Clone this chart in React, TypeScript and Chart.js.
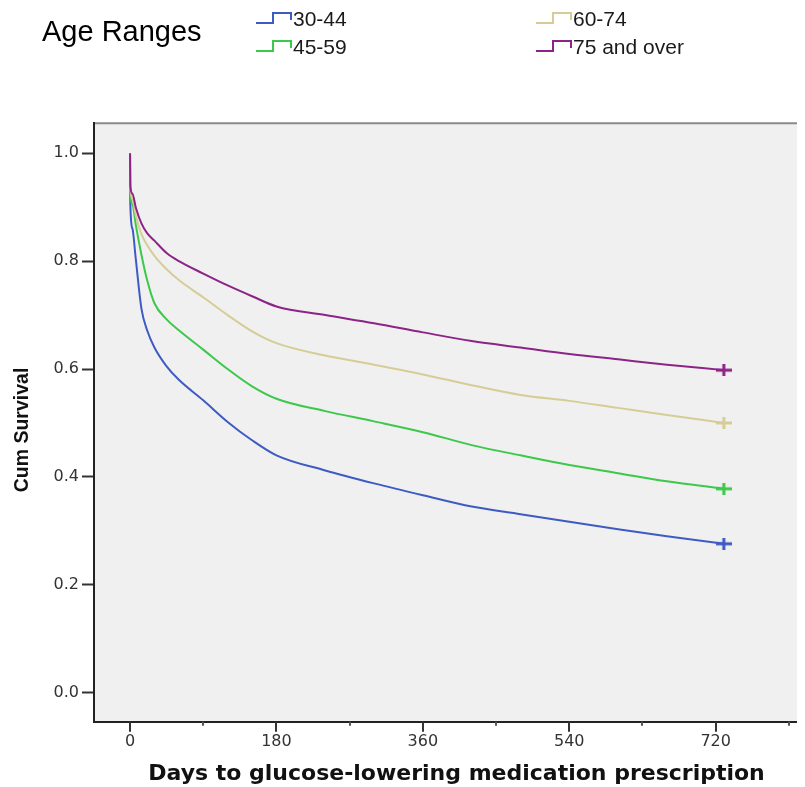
import { useEffect, useRef } from 'react';
import { Chart, registerables } from 'chart.js';

Chart.register(...registerables);

// Kaplan-Meier estimates by age group, read at selected follow-up days
const groupLabels = ['30-44', '45-59', '60-74', '75 and over'];
const groupColors = ['#3e5bc4', '#3cc84a', '#d6cd96', '#8c2488'];

const days = [0, 0.3, 3, 7, 14, 21, 30, 45, 60, 90, 120, 150, 180, 240, 300, 360, 420, 480, 540, 600, 660, 730];
const surv3044 = [1, 0.908, 0.86, 0.805, 0.712, 0.672, 0.64, 0.605, 0.58, 0.542, 0.502, 0.468, 0.44, 0.412, 0.388, 0.366, 0.345, 0.331, 0.317, 0.303, 0.29, 0.276];
const surv4559 = [1, 0.926, 0.905, 0.868, 0.812, 0.765, 0.722, 0.692, 0.672, 0.636, 0.6, 0.568, 0.545, 0.522, 0.503, 0.483, 0.459, 0.44, 0.422, 0.407, 0.392, 0.378];
const surv6074 = [1, 0.94, 0.915, 0.885, 0.85, 0.83, 0.81, 0.785, 0.765, 0.733, 0.7, 0.67, 0.648, 0.625, 0.608, 0.59, 0.57, 0.552, 0.541, 0.528, 0.515, 0.5];
const surv75plus = [1, 0.94, 0.925, 0.9, 0.87, 0.852, 0.838, 0.815, 0.8, 0.777, 0.755, 0.735, 0.716, 0.7, 0.685, 0.668, 0.652, 0.64, 0.628, 0.618, 0.608, 0.598];

const xTickValues = [0, 90, 180, 270, 360, 450, 540, 630, 720, 810];
const xLabelStep = 180;
const yTickValues = [0, 0.2, 0.4, 0.6, 0.8, 1.0];

const legendTitle = 'Age Ranges';
const xTitle = 'Days to glucose-lowering medication prescription';
const yTitle = 'Cum Survival';

const TICK_FONT = "'DejaVu Sans', sans-serif";
const ARIAL = "'Liberation Sans', Arial, sans-serif";

// "+" censor mark drawn as a small bitmap
function makeCross(color: string): HTMLCanvasElement {
  const c = document.createElement('canvas');
  c.width = 16;
  c.height = 12;
  const g = c.getContext('2d')!;
  g.fillStyle = color;
  g.fillRect(0, 4.5, 16, 3);
  g.fillRect(6.5, 0, 3, 12);
  return c;
}

const plotFrame = {
  id: 'plotFrame',
  beforeDraw(chart: any) {
    const { ctx, chartArea: a } = chart;
    ctx.save();
    ctx.fillStyle = '#f0f0f0';
    ctx.fillRect(a.left, a.top, a.right - a.left, a.bottom - a.top);
    ctx.strokeStyle = '#8a8a8a';
    ctx.lineWidth = 2;
    ctx.beginPath();
    ctx.moveTo(a.left, a.top);
    ctx.lineTo(a.right, a.top);
    ctx.stroke();
    ctx.restore();
  },
  afterDraw(chart: any) {
    const { ctx, chartArea: a } = chart;
    const xs = chart.scales.x;
    ctx.save();
    // x-axis tick marks: long at labelled days, short in between
    xs.ticks.forEach((t: any) => {
      const px = Math.round(xs.getPixelForValue(t.value));
      const major = t.value % xLabelStep === 0;
      ctx.strokeStyle = major ? '#333' : '#555';
      ctx.lineWidth = 2;
      ctx.beginPath();
      ctx.moveTo(px, a.bottom);
      ctx.lineTo(px, a.bottom + (major ? 10 : 4));
      ctx.stroke();
    });

    // y-axis title
    ctx.save();
    ctx.translate(15, 422);
    ctx.rotate(-Math.PI / 2);
    ctx.fillStyle = '#111';
    ctx.font = `bold 19.5px ${ARIAL}`;
    ctx.textAlign = 'center';
    ctx.textBaseline = 'middle';
    ctx.fillText(yTitle, 0, 0);
    ctx.restore();

    // legend
    ctx.fillStyle = '#000';
    ctx.font = `29px ${ARIAL}`;
    ctx.textBaseline = 'middle';
    ctx.textAlign = 'left';
    ctx.fillText(legendTitle, 34, 25);

    const cols = [248, 528];
    const rows = [15, 43];
    chart.data.datasets.forEach((ds: any, i: number) => {
      const col = cols[Math.floor(i / 2)];
      const low = rows[i % 2];
      const high = low - 10;
      ctx.strokeStyle = ds.borderColor;
      ctx.lineWidth = 2;
      ctx.beginPath();
      ctx.moveTo(col, low);
      ctx.lineTo(col + 17, low);
      ctx.lineTo(col + 17, high);
      ctx.lineTo(col + 35, high);
      ctx.lineTo(col + 35, high + 7);
      ctx.stroke();
      ctx.fillStyle = '#1a1a1a';
      ctx.font = `21px ${ARIAL}`;
      ctx.fillText(ds.label, col + 37, low - 3);
    });
    ctx.restore();
  },
};

export default function App() {
  const ref = useRef<HTMLCanvasElement>(null);

  useEffect(() => {
    if (!ref.current) return;
    const series = [surv3044, surv4559, surv6074, surv75plus];
    const last = days.length - 1;
    const chart = new Chart(ref.current, {
      type: 'line',
      data: {
        datasets: series.map((vals, i) => ({
          label: groupLabels[i],
          data: days.map((d, k) => ({ x: d, y: vals[k] })),
          borderColor: groupColors[i],
          backgroundColor: groupColors[i],
          borderWidth: 2,
          cubicInterpolationMode: 'monotone' as const,
          fill: false,
          order: series.length - 1 - i,
          pointStyle: makeCross(groupColors[i]),
          pointRadius: (c: any) => (c.dataIndex === last ? 6 : 0),
          pointHoverRadius: 0,
        })),
      },
      options: {
        animation: false,
        responsive: false,
        devicePixelRatio: 1,
        events: [],
        layout: { padding: { top: 115.3, left: 0, right: 0, bottom: 0 } },
        plugins: { legend: { display: false }, tooltip: { enabled: false }, title: { display: false } },
        scales: {
          x: {
            type: 'linear',
            min: -44.3,
            max: 847,
            afterBuildTicks: (s: any) => {
              s.ticks = xTickValues.map((v) => ({ value: v }));
            },
            afterFit: (s: any) => {
              s.height = 65.3;
            },
            grid: { display: false, drawTicks: false },
            border: { display: true, color: '#222', width: 2 },
            ticks: {
              padding: 11,
              color: '#333',
              font: { family: TICK_FONT, size: 16 },
              maxRotation: 0,
              autoSkip: false,
              callback: (v: any) => (Number(v) % xLabelStep === 0 ? String(v) : ''),
            },
            title: {
              display: true,
              text: xTitle,
              color: '#111',
              font: { family: TICK_FONT, size: 22, weight: 'bold', lineHeight: 1 },
              padding: { top: 0, bottom: 1.5 },
            },
          },
          y: {
            type: 'linear',
            min: -0.0538,
            max: 1.0556,
            afterBuildTicks: (s: any) => {
              s.ticks = yTickValues.map((v) => ({ value: v }));
            },
            afterFit: (s: any) => {
              s.width = 86;
            },
            grid: {
              display: true,
              drawOnChartArea: false,
              drawTicks: true,
              tickLength: 12,
              tickColor: '#333',
              tickWidth: 2,
            },
            border: { display: true, color: '#222', width: 2 },
            ticks: {
              padding: 3,
              color: '#333',
              font: { family: TICK_FONT, size: 16 },
              autoSkip: false,
              callback: (v: any) => Number(v).toFixed(1),
            },
            title: { display: false },
          },
        },
      },
      plugins: [plotFrame],
    });
    return () => chart.destroy();
  }, []);

  return (
    <div style={{ width: 797, height: 779, overflow: 'hidden', position: 'relative' }}>
      <canvas ref={ref} width={819} height={779} style={{ width: 819, height: 779, display: 'block' }} />
    </div>
  );
}
